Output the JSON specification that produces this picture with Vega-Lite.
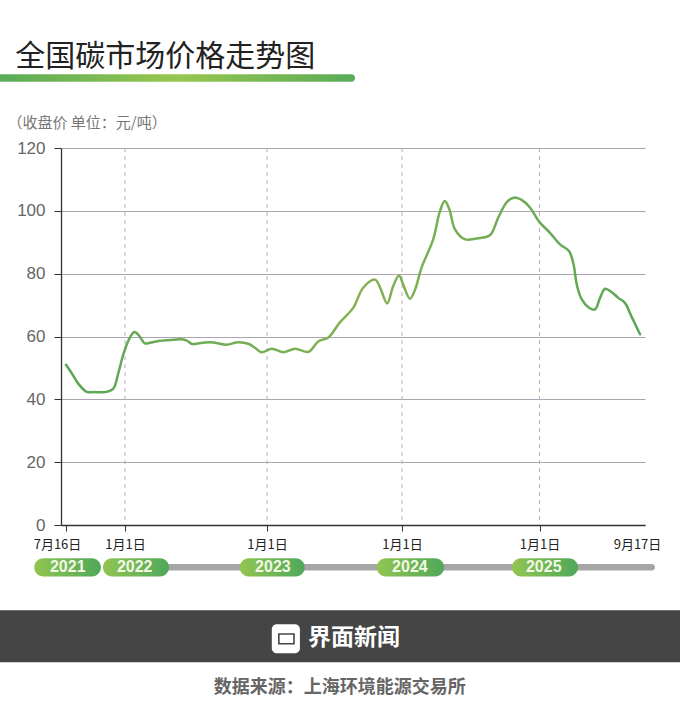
{
"width":584,"height":377,"autosize":"none",
"padding":{"left":61,"top":148,"right":35,"bottom":198},
"background":"white",
"config":{"view":{"stroke":null}},
"data":{"values":[
{"date":"2021-07-16","price":51},{"date":"2021-08-01","price":48.4},{"date":"2021-08-20","price":45},{"date":"2021-09-13","price":42.4},{"date":"2021-10-07","price":42.3},{"date":"2021-11-05","price":42.3},{"date":"2021-11-28","price":43.3},{"date":"2021-12-13","price":48.4},{"date":"2021-12-27","price":54.2},
{"date":"2022-01-11","price":59},{"date":"2022-01-25","price":61.4},{"date":"2022-02-04","price":60.6},{"date":"2022-02-21","price":57.8},{"date":"2022-03-06","price":58},{"date":"2022-03-28","price":58.6},{"date":"2022-04-27","price":58.9},{"date":"2022-05-27","price":59.1},{"date":"2022-06-09","price":58.7},{"date":"2022-06-23","price":57.6},{"date":"2022-07-08","price":57.8},{"date":"2022-07-26","price":58.1},{"date":"2022-08-16","price":58.1},{"date":"2022-09-19","price":57.4},{"date":"2022-10-19","price":58.2},{"date":"2022-11-14","price":57.7},{"date":"2022-12-01","price":56.4},{"date":"2022-12-18","price":55},
{"date":"2023-01-14","price":56.1},{"date":"2023-02-14","price":55},{"date":"2023-03-18","price":56.1},{"date":"2023-04-23","price":55.1},{"date":"2023-05-20","price":58.5},{"date":"2023-06-16","price":59.7},{"date":"2023-07-17","price":64.5},{"date":"2023-08-22","price":69.1},{"date":"2023-09-18","price":75.5},{"date":"2023-10-20","price":78.1},{"date":"2023-11-03","price":75.5},{"date":"2023-11-22","price":70.5},{"date":"2023-12-08","price":76},{"date":"2023-12-24","price":79.4},
{"date":"2024-01-04","price":76.6},{"date":"2024-01-22","price":72},{"date":"2024-02-05","price":75},{"date":"2024-02-22","price":81.9},{"date":"2024-03-24","price":90.9},{"date":"2024-04-11","price":99.9},{"date":"2024-04-24","price":103.1},{"date":"2024-05-06","price":100.5},{"date":"2024-05-21","price":94.1},{"date":"2024-06-17","price":90.9},{"date":"2024-07-18","price":91.2},{"date":"2024-08-22","price":92.2},{"date":"2024-09-13","price":97.8},{"date":"2024-10-06","price":102.8},{"date":"2024-10-25","price":104.2},{"date":"2024-11-19","price":103.1},{"date":"2024-12-07","price":101},
{"date":"2025-01-01","price":96.4},{"date":"2025-01-28","price":93},{"date":"2025-02-23","price":89.3},{"date":"2025-03-18","price":87.2},{"date":"2025-03-29","price":83.4},{"date":"2025-04-08","price":76},{"date":"2025-04-20","price":71.8},{"date":"2025-05-07","price":69.3},{"date":"2025-05-24","price":68.6},{"date":"2025-06-06","price":72.3},{"date":"2025-06-19","price":75.2},{"date":"2025-07-06","price":74.1},{"date":"2025-07-23","price":72.3},{"date":"2025-08-09","price":70.7},{"date":"2025-08-26","price":66.4},{"date":"2025-09-17","price":60.7}
]},
"layer":[
{"data":{"values":[{"date":"2022-01-01"},{"date":"2023-01-01"},{"date":"2024-01-01"},{"date":"2025-01-01"}]},
 "mark":{"type":"rule","color":"#b5b0ba","strokeWidth":1,"strokeDash":[4,4]},
 "encoding":{
  "x":{"field":"date","type":"temporal",
   "scale":{"type":"utc","domainRaw":{"expr":"[utc(2021,6,2),utc(2021,6,16),utc(2022,0,1),utc(2023,0,1),utc(2024,0,1),utc(2025,0,1),utc(2025,8,17),utc(2025,8,30)]"},"range":[0,5,64,206,341,478.5,579,584]},
   "axis":{"title":null,"values":["2021-07-16","2022-01-01","2023-01-01","2024-01-01","2025-01-01","2025-09-17"],"format":"%-m月%-d日","grid":false,"domainColor":"#333333","domainWidth":1.3,"tickColor":"#333333","tickSize":6,"tickWidth":1,"labelPadding":7,"labelFontSize":13,"labelColor":"#222222","labelFont":"Noto Sans CJK SC","labelOverlap":false,"labelFlush":false,
    "tickOpacity":{"condition":{"test":"datum.value > 1750000000000","value":0},"value":1},
    "labelOffset":{"condition":[{"test":"datum.value < 1630000000000","value":-9},{"test":"datum.value > 1750000000000","value":-3}],"value":0}}}
 }},
{"mark":{"type":"line","interpolate":"catmull-rom","strokeWidth":2.5,"strokeCap":"round","color":{"gradient":"linear","x1":0,"y1":0,"x2":1,"y2":0,"stops":[{"offset":0,"color":"#5aa657"},{"offset":0.5,"color":"#86b252"},{"offset":1,"color":"#5aa657"}]}},
 "encoding":{
  "x":{"field":"date","type":"temporal"},
  "y":{"field":"price","type":"quantitative",
   "scale":{"domain":[0,120],"nice":false},
   "axis":{"title":"\uFF08收盘价 单位\uFF1A元/吨\uFF09","values":[0,20,40,60,80,100,120],"grid":true,"gridColor":"#aaa5b0","gridWidth":1,"domainColor":"#333333","domainWidth":1.3,"tickColor":"#333333","tickSize":7,"tickWidth":1,"labelPadding":9,"labelFontSize":17,"labelColor":"#666666","labelFont":"Liberation Sans","titleAngle":0,"titleX":-54,"titleY":-26,"titleAlign":"left","titleBaseline":"middle","titleFontSize":15,"titleFontWeight":400,"titleColor":"#777777","titleFont":"Noto Sans CJK SC"}}
 }},
{"data":{"values":[{"item":"title bar","start":"2021-01-05","end":"2023-08-27"}]},
 "mark":{"type":"rect","cornerRadius":3.5,"color":{"gradient":"linear","x1":0,"y1":0,"x2":1,"y2":0,"stops":[{"offset":0,"color":"#5aab58"},{"offset":0.5,"color":"#97c64f"},{"offset":1,"color":"#5aab58"}]}},
 "encoding":{
  "x":{"field":"start","type":"temporal"},
  "x2":{"field":"end"},
  "y":{"datum":143.5,"type":"quantitative"},
  "y2":{"datum":141.1}
 }},
{"data":{"values":[{"item":"timeline","start":"2022-03-01","end":"2025-10-26"}]},
 "mark":{"type":"rect","cornerRadius":3,"color":"#a6a6a6"},
 "encoding":{
  "x":{"field":"start","type":"temporal"},
  "x2":{"field":"end"},
  "y":{"datum":-12.4,"type":"quantitative"},
  "y2":{"datum":-14.5}
 }},
{"data":{"values":[
 {"year":"2021","start":"2021-04-18","end":"2021-10-24"},
 {"year":"2022","start":"2021-10-30","end":"2022-04-24"},
 {"year":"2023","start":"2022-10-23","end":"2023-04-13"},
 {"year":"2024","start":"2023-10-25","end":"2024-04-22"},
 {"year":"2025","start":"2024-10-20","end":"2025-04-10"}
 ]},
 "mark":{"type":"rect","cornerRadius":9,"color":{"gradient":"linear","x1":0,"y1":0,"x2":1,"y2":0,"stops":[{"offset":0,"color":"#92c551"},{"offset":1,"color":"#4fa85a"}]}},
 "encoding":{
  "x":{"field":"start","type":"temporal"},
  "x2":{"field":"end"},
  "y":{"datum":-10.6,"type":"quantitative"},
  "y2":{"datum":-16.4}
 }},
{"data":{"values":[
 {"year":"2021","mid":"2021-07-21"},
 {"year":"2022","mid":"2022-01-26"},
 {"year":"2023","mid":"2023-01-17"},
 {"year":"2024","mid":"2024-01-22"},
 {"year":"2025","mid":"2025-01-12"}
 ]},
 "mark":{"type":"text","font":"Liberation Sans","fontWeight":"bold","fontSize":16,"color":"#f2f7e6","align":"center","baseline":"middle"},
 "encoding":{
  "x":{"field":"mid","type":"temporal"},
  "y":{"datum":-13.5,"type":"quantitative"},
  "text":{"field":"year"}
 }},
{"data":{"values":[{"item":"footer band","start":"2021-01-01","end":"2026-01-10"}]},
 "mark":{"type":"rect","color":"#454545"},
 "encoding":{
  "x":{"field":"start","type":"temporal"},
  "x2":{"field":"end"},
  "y":{"datum":-27.1,"type":"quantitative"},
  "y2":{"datum":-43.7}
 }},
{"data":{"values":[{"item":"logo","start":"2023-01-14","end":"2023-03-31"}]},
 "mark":{"type":"rect","color":"#ffffff","cornerRadius":5},
 "encoding":{
  "x":{"field":"start","type":"temporal"},
  "x2":{"field":"end"},
  "y":{"datum":-31.6,"type":"quantitative"},
  "y2":{"datum":-40.8}
 }},
{"data":{"values":[{"item":"logo glyph","start":"2023-02-02","end":"2023-03-15"}]},
 "mark":{"type":"rect","fill":"#ffffff","stroke":"#454545","strokeWidth":1.6},
 "encoding":{
  "x":{"field":"start","type":"temporal"},
  "x2":{"field":"end"},
  "y":{"datum":-34.7,"type":"quantitative"},
  "y2":{"datum":-37.8}
 }},
{"data":{"values":[{"label":"界面新闻","date":"2023-08-24"}]},
 "mark":{"type":"text","font":"Noto Sans CJK SC","fontWeight":"bold","fontSize":23,"color":"#ffffff","align":"center","baseline":"middle"},
 "encoding":{
  "x":{"field":"date","type":"temporal"},
  "y":{"datum":-36.1,"type":"quantitative"},
  "text":{"field":"label"}
 }},
{"data":{"values":[{"label":"数据来源\uFF1A上海环境能源交易所","date":"2023-07-17"}]},
 "mark":{"type":"text","font":"Noto Sans CJK SC","fontWeight":"bold","fontSize":18,"color":"#666666","align":"center","baseline":"middle"},
 "encoding":{
  "x":{"field":"date","type":"temporal"},
  "y":{"datum":-51.8,"type":"quantitative"},
  "text":{"field":"label"}
 }},
{"data":{"values":[{"label":"全国碳市场价格走势图","date":"2021-02-24"}]},
 "mark":{"type":"text","font":"Noto Sans CJK SC","fontSize":30,"color":"#222222","align":"left","baseline":"middle"},
 "encoding":{
  "x":{"field":"date","type":"temporal"},
  "y":{"datum":149,"type":"quantitative"},
  "text":{"field":"label"}
 }}
]
}
